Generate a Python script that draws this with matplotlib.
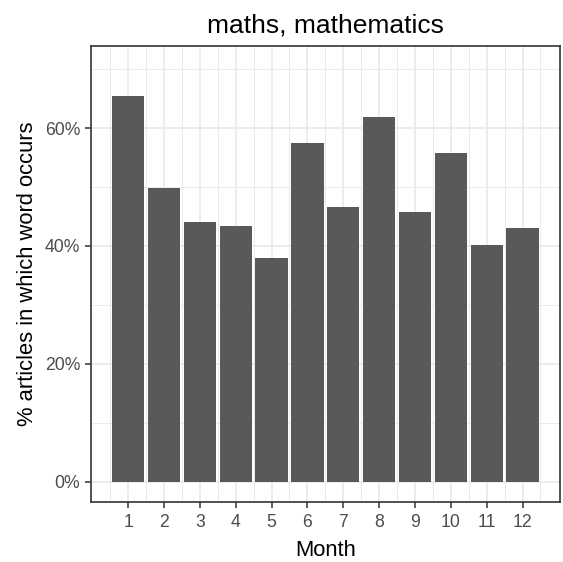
import numpy as np
import matplotlib.pyplot as plt
from matplotlib.ticker import FixedLocator, FuncFormatter

plt.rcParams['font.family'] = ['Liberation Sans', 'DejaVu Sans']

months = list(range(1, 13))
share = [65.4, 49.8, 44.1, 43.3, 38.0, 57.4, 46.6, 61.9, 45.7, 55.8, 40.2, 43.1]
y_ticks = [0, 20, 40, 60]

fig = plt.figure(figsize=(5.63, 5.62), dpi=100)
ax = fig.add_axes([0.161, 0.1073, 0.8337, 0.8103])

ax.bar(months, share, width=0.9, color='#595959', zorder=3)

ax.set_xlim(-0.045, 13.045)
ax.set_ylim(-3.4, 73.86)

# ggplot theme_bw look: major + minor grid
ax.xaxis.set_major_locator(FixedLocator(months))
ax.xaxis.set_minor_locator(FixedLocator([m - 0.5 for m in months] + [12.5]))
ax.yaxis.set_major_locator(FixedLocator(y_ticks))
ax.yaxis.set_minor_locator(FixedLocator([10, 30, 50, 70]))
ax.yaxis.set_major_formatter(FuncFormatter(lambda v, p: '%d%%' % v))

ax.grid(which='major', color='#EBEBEB', linewidth=1.3, zorder=0)
ax.grid(which='minor', color='#EBEBEB', linewidth=0.7, zorder=0)
ax.set_axisbelow(True)

for s in ax.spines.values():
    s.set_color('#333333')
    s.set_linewidth(1.2)

ax.tick_params(which='major', length=4.3, width=1.1, color='#333333',
               labelcolor='#4D4D4D', labelsize=12.7, pad=3.2)
ax.tick_params(axis='x', which='major', pad=4.5)
ax.tick_params(which='minor', length=0)

ax.set_xlabel('Month', fontsize=15.8, labelpad=6.5)
ax.set_ylabel('% articles in which word occurs', fontsize=15.8, labelpad=5)
ax.set_title('maths, mathematics', fontsize=19, pad=10)

fig.savefig('out.png', dpi=100)
